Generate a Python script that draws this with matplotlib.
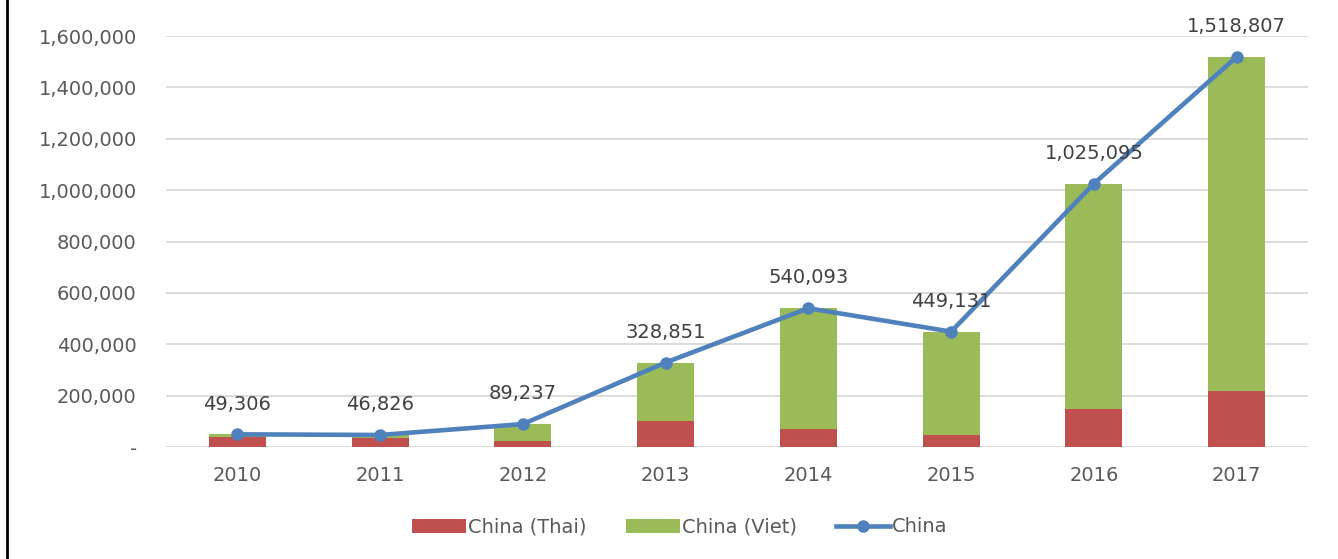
import matplotlib
matplotlib.use("Agg")
import matplotlib.pyplot as plt
from matplotlib.patches import Patch
from matplotlib.lines import Line2D
import numpy as np

years = ["2010", "2011", "2012", "2013", "2014", "2015", "2016", "2017"]
china_thai = [39700, 34500, 24000, 101000, 70700, 48000, 148000, 218700]
china_total = [49306, 46826, 89237, 328851, 540093, 449131, 1025095, 1518807]
china_viet = [t - th for t, th in zip(china_total, china_thai)]
yticks = [0, 200000, 400000, 600000, 800000, 1000000, 1200000, 1400000, 1600000]

RED = "#C0504D"
GREEN = "#9BBB59"
BLUE = "#4F81BD"
TICK = "#595959"
LABEL = "#404040"

plt.rcParams['font.family'] = ['DejaVu Sans']

fig = plt.figure(figsize=(13.38, 5.59), dpi=100)
ax = fig.add_axes([166/1338, (559-447)/559, (1308-166)/1338, (447-36)/559])

x = np.arange(len(years))
ax.bar(x, china_thai, width=0.4, color=RED, zorder=2)
ax.bar(x, china_viet, width=0.4, bottom=china_thai, color=GREEN, zorder=2)
ax.plot(x, china_total, color=BLUE, lw=3.3, marker='o', ms=8, zorder=3)

for xi, v in zip(x, china_total):
    ax.annotate(f"{v:,}", (xi, v), xytext=(0, 15), textcoords='offset points',
                ha='center', va='bottom', fontsize=14, color=LABEL, zorder=4,
                annotation_clip=False)

ax.set_xlim(-0.5, 7.5)
ax.set_ylim(0, 1600000)
ax.set_yticks(yticks)
ax.set_yticklabels(["-" if v == 0 else f"{v:,}" for v in yticks])
ax.set_xticks(x)
ax.set_xticklabels(years)
ax.tick_params(axis='y', length=0, pad=21, labelsize=14, labelcolor=TICK)
ax.tick_params(axis='x', length=0, pad=14, labelsize=14, labelcolor=TICK)
ax.grid(axis='y', color="#D9D9D9", lw=1.3, zorder=0)
ax.set_axisbelow(True)
for s in ax.spines.values():
    s.set_visible(False)

handles = [Patch(facecolor=RED, label="China (Thai)"),
           Patch(facecolor=GREEN, label="China (Viet)"),
           Line2D([], [], color=BLUE, lw=3.3, marker='o', ms=8, label="China")]
fig.legend(handles=handles, loc='center', bbox_to_anchor=(0.508, (559-527)/559),
           ncol=3, frameon=False, fontsize=14, handlelength=2.8, handleheight=0.75,
           handletextpad=0.1, columnspacing=2.0, labelcolor=TICK)

fig.add_artist(Line2D([7/1338, 7/1338], [0, 1], color='black', lw=2.0,
                      transform=fig.transFigure))

fig.savefig("out.png", dpi=100)
